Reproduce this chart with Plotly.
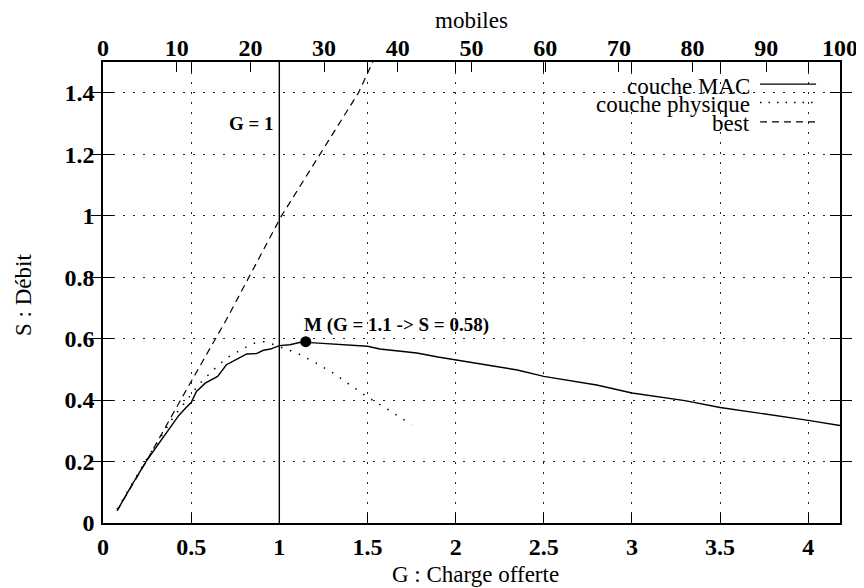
import plotly.graph_objects as go

# ---- data ----
G_MAC = [0.08, 0.16, 0.25, 0.36, 0.43, 0.47, 0.50, 0.53, 0.58, 0.65, 0.70, 0.76, 0.815, 0.87,
         0.91, 0.95, 1.0, 1.06, 1.12, 1.2, 1.29, 1.4, 1.5, 1.57, 1.68, 1.78, 1.9, 2.0, 2.14,
         2.25, 2.35, 2.5, 2.65, 2.8, 3.0, 3.15, 3.3, 3.5, 3.65, 3.8, 4.0, 4.18]
S_MAC = [0.04, 0.12, 0.205, 0.295, 0.35, 0.375, 0.392, 0.428, 0.455, 0.477, 0.515, 0.533, 0.55,
         0.551, 0.562, 0.566, 0.577, 0.58, 0.588, 0.586, 0.583, 0.58, 0.575, 0.566, 0.56, 0.553,
         0.54, 0.531, 0.517, 0.506, 0.498, 0.477, 0.463, 0.449, 0.423, 0.41, 0.398, 0.376, 0.364,
         0.352, 0.334, 0.317]

G_PHY = [0.08, 0.25, 0.4, 0.5, 0.55, 0.63, 0.7, 0.76, 0.82, 0.87, 0.92, 0.97, 1.04, 1.1, 1.21,
         1.3, 1.4, 1.5, 1.6, 1.68, 1.75]
S_PHY = [0.045, 0.21, 0.345, 0.418, 0.455, 0.5, 0.537, 0.556, 0.575, 0.588, 0.59, 0.58, 0.566,
         0.553, 0.52, 0.49, 0.45, 0.41, 0.375, 0.345, 0.32]

G_BEST = [0.08, 0.25, 0.45, 0.7, 1.013, 1.23, 1.449, 1.53]
S_BEST = [0.04, 0.205, 0.41, 0.662, 1.0, 1.2, 1.4, 1.5]

G_REF = [1, 1]
S_REF = [0, 1.5]

M_G = [1.15]
M_S = [0.59]
M_LABEL = "M (G = 1.1 -> S = 0.58)"
REF_LABEL = "G = 1"

X_RANGE = [0, 4.18]
Y_RANGE = [0, 1.5]
MOBILES_RANGE = [0, 100]

SERIES_NAMES = ["couche MAC", "couche physique", "best"]
X_TITLE = "G : Charge offerte"
X2_TITLE = "mobiles"
Y_TITLE = "S : Débit"

FONT = "Liberation Serif"

fig = go.Figure()

fig.add_trace(go.Scatter(x=G_MAC, y=S_MAC, mode="lines", name=SERIES_NAMES[0],
                         line=dict(color="black", width=1.4), showlegend=False))
fig.add_trace(go.Scatter(x=G_PHY, y=S_PHY, mode="lines", name=SERIES_NAMES[1],
                         line=dict(color="black", width=1.5, dash="1.5px,8px"), showlegend=False))
fig.add_trace(go.Scatter(x=G_BEST, y=S_BEST, mode="lines", name=SERIES_NAMES[2],
                         line=dict(color="black", width=1.2, dash="7px,5px"), showlegend=False))
fig.add_trace(go.Scatter(x=G_REF, y=S_REF, mode="lines", line=dict(color="black", width=1.4),
                         showlegend=False, hoverinfo="skip"))
fig.add_trace(go.Scatter(x=M_G, y=M_S, mode="markers",
                         marker=dict(symbol="circle", size=11, color="black"),
                         showlegend=False))
# invisible trace for the top (mobiles) axis
fig.add_trace(go.Scatter(x=MOBILES_RANGE, y=[None, None], xaxis="x2", mode="lines",
                         showlegend=False, hoverinfo="skip"))

# annotations
fig.add_annotation(x=M_G[0], y=M_S[0], xref="x", yref="y", text=M_LABEL, showarrow=False,
                   xanchor="left", yanchor="bottom", xshift=-4, yshift=4,
                   font=dict(family=FONT, size=19, color="black", weight="bold"))
fig.add_annotation(x=G_REF[0], y=1.3, xref="x", yref="y", text=REF_LABEL, showarrow=False,
                   xanchor="right", yanchor="middle", xshift=-3,
                   font=dict(family=FONT, size=19, color="black", weight="bold"))

# axis titles as annotations (precise placement)
fig.add_annotation(x=0.5, y=1.091, xref="paper", yref="paper", text=X2_TITLE, showarrow=False,
                   xanchor="center", yanchor="middle", font=dict(family=FONT, size=23))
fig.add_annotation(x=0.505, y=-0.111, xref="paper", yref="paper", text=X_TITLE, showarrow=False,
                   xanchor="center", yanchor="middle", font=dict(family=FONT, size=23))
fig.add_annotation(x=-0.107, y=0.495, xref="paper", yref="paper", text=Y_TITLE, showarrow=False,
                   textangle=-90, xanchor="center", yanchor="middle",
                   font=dict(family=FONT, size=23))

# manual legend (compact like gnuplot key)
legend_rows = [(0.952, "solid", 1.4), (0.912, "1.5px,7px", 1.5), (0.870, "7px,5px", 1.2)]
text_rows = [0.946, 0.907, 0.866]
for name, (ly, dash, w), ty in zip(SERIES_NAMES, legend_rows, text_rows):
    fig.add_annotation(x=0.881, y=ty, xref="paper", yref="paper", text=name, showarrow=False,
                       xanchor="right", yanchor="middle",
                       font=dict(family=FONT, size=23, color="black"))
    fig.add_shape(type="line", xref="paper", yref="paper", x0=0.8915, x1=0.9675, y0=ly, y1=ly,
                  line=dict(color="black", width=w, dash=dash))

grid = dict(showgrid=True, gridcolor="#222", gridwidth=1, griddash="1.5px,8.5px")

fig.update_layout(
    width=856, height=580,
    margin=dict(l=95, r=24, t=54, b=65),
    plot_bgcolor="white", paper_bgcolor="white",
    font=dict(family=FONT, color="black"),
    showlegend=False,
    xaxis=dict(range=X_RANGE, dtick=0.5, tick0=0, ticks="inside", ticklen=10, tickwidth=1,
               tickcolor="black", showline=True, linecolor="black", linewidth=1.5,
               mirror="allticks", zeroline=False, automargin=False, ticklabelstandoff=1,
               tickfont=dict(family=FONT, size=24, weight="bold"), **grid),
    xaxis2=dict(range=MOBILES_RANGE, dtick=10, tick0=0, overlaying="x", side="top",
                ticks="inside", ticklen=10, tickwidth=1, tickcolor="black", showgrid=False,
                zeroline=False, showline=False, automargin=False, ticklabelstandoff=0,
                tickfont=dict(family=FONT, size=24, weight="bold")),
    yaxis=dict(range=Y_RANGE, dtick=0.2, tick0=0, ticks="inside", ticklen=10, tickwidth=1,
               tickcolor="black", showline=True, linecolor="black", linewidth=1.5,
               mirror="allticks", zeroline=False, automargin=False, ticklabelstandoff=2,
               tickfont=dict(family=FONT, size=24, weight="bold"), **grid),
)

fig.write_html("out.html")
